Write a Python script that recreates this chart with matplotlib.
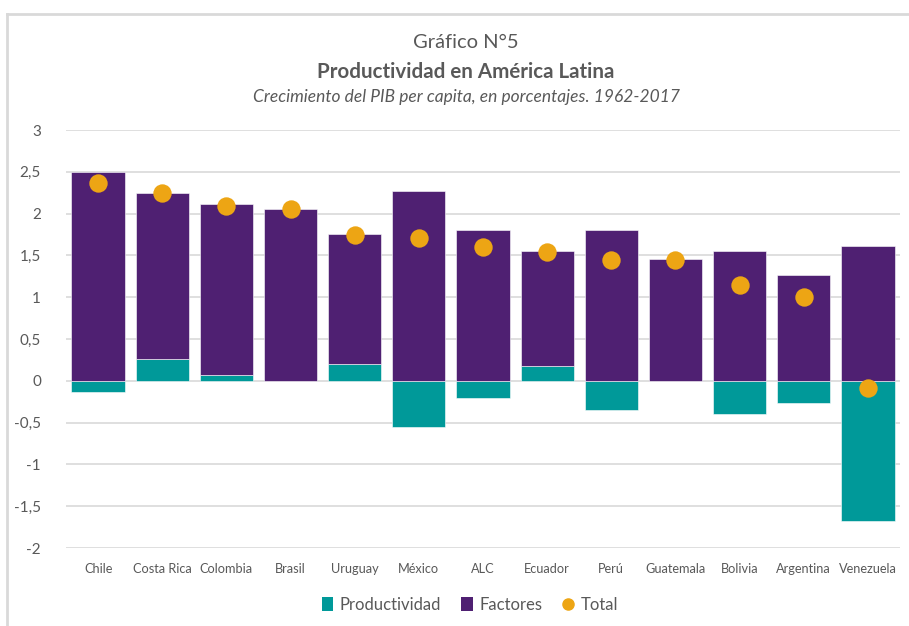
import matplotlib
matplotlib.use("Agg")
import matplotlib.pyplot as plt
from matplotlib.lines import Line2D
from matplotlib.patches import Patch
import numpy as np

plt.rcParams['font.family'] = ['Lato', 'DejaVu Sans']

categories = ["Chile", "Costa Rica", "Colombia", "Brasil", "Uruguay", "México", "ALC",
              "Ecuador", "Perú", "Guatemala", "Bolivia", "Argentina", "Venezuela"]
productividad = [-0.13, 0.26, 0.07, 0.0, 0.20, -0.55, -0.20, 0.18, -0.35, 0.0, -0.40, -0.26, -1.68]
factores = [2.50, 1.99, 2.04, 2.06, 1.56, 2.27, 1.80, 1.37, 1.80, 1.455, 1.55, 1.26, 1.61]
total = [2.37, 2.25, 2.09, 2.05, 1.75, 1.71, 1.60, 1.54, 1.45, 1.45, 1.15, 1.00, -0.09]
yticks = [-2, -1.5, -1, -0.5, 0, 0.5, 1, 1.5, 2, 2.5, 3]
ytick_labels = ["-2", "-1,5", "-1", "-0,5", "0", "0,5", "1", "1,5", "2", "2,5", "3"]

teal = "#009999"
purple = "#4F2072"
orange = "#EDA514"
grid = "#D9D9D9"
txt = "#595959"

fig = plt.figure(figsize=(9.09, 6.26), dpi=100)
ax = fig.add_axes([66/909, 1-548/626, (900-66)/909, (548-130)/626])

x = np.arange(len(categories))
p = np.array(productividad)
f = np.array(factores)
p_pos = np.where(p > 0, p, 0)
w = 0.83
ax.bar(x, p, width=w, color=teal, edgecolor="white", linewidth=0.4, zorder=2)
ax.bar(x, f, width=w, bottom=p_pos, color=purple, edgecolor="white", linewidth=0.4, zorder=2)
ax.scatter(x, total, s=175, color=orange, zorder=3, linewidths=0)

ax.set_xlim(-0.5, len(categories) - 0.5)
ax.set_ylim(-2, 3)
ax.set_yticks(yticks)
ax.set_yticklabels(ytick_labels, fontsize=11, color=txt)
ax.set_xticks(x)
ax.set_xticklabels(categories, fontsize=9.2, color=txt)
ax.tick_params(axis='y', length=0, pad=18)
ax.tick_params(axis='x', length=0, pad=11)
for s in ax.spines.values():
    s.set_visible(False)
ax.grid(axis='y', color=grid, linewidth=1.2, zorder=0)
ax.set_axisbelow(True)

fig.text(0.512, 1-43/626, "Gráfico N°5", ha='center', va='center', fontsize=14.5, color=txt)
fig.text(0.512, 1-72/626, "Productividad en América Latina", ha='center', va='center',
         fontsize=14.8, fontweight='bold', color=txt)
fig.text(0.513, 1-97/626, "Crecimiento del PIB per capita, en porcentajes. 1962-2017",
         ha='center', va='center', fontsize=12.5, style='italic', color=txt)

handles = [Patch(facecolor=teal, label="Productividad"),
           Patch(facecolor=purple, label="Factores"),
           Line2D([0], [0], marker='o', color='none', markerfacecolor=orange,
                  markeredgecolor=orange, markersize=8, label="Total")]
leg = fig.legend(handles=handles, loc='center', bbox_to_anchor=(0.517, 1-605/626), ncol=3,
                 frameon=False, fontsize=12, handlelength=0.7, handleheight=0.9,
                 handletextpad=0.4, columnspacing=1.2)
for t in leg.get_texts():
    t.set_color(txt)

# chart frame
fig.add_artist(Line2D([7/909, 1.0], [1-14/626, 1-14/626], color=grid, linewidth=2,
                      transform=fig.transFigure))
fig.add_artist(Line2D([7.5/909, 7.5/909], [0, 1-14/626], color=grid, linewidth=2,
                      transform=fig.transFigure))

fig.savefig("out.png", dpi=100)
